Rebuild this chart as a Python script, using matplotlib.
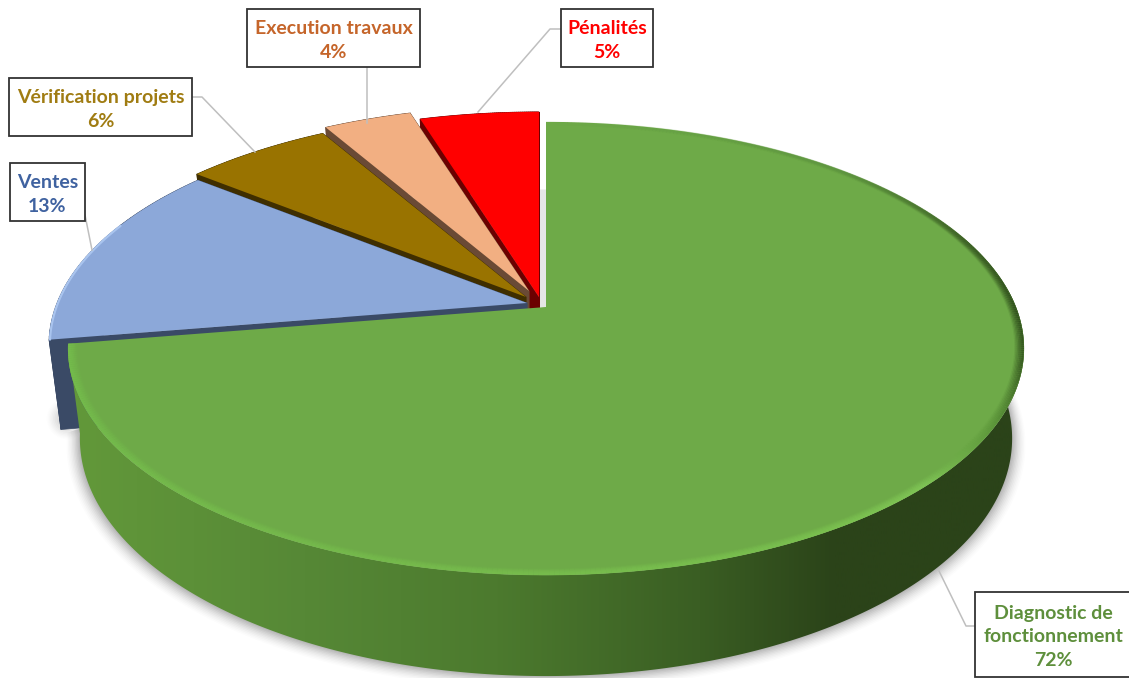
import numpy as np
import matplotlib
matplotlib.use("Agg")
import matplotlib.pyplot as plt
from matplotlib.patches import Polygon, Rectangle
from matplotlib.collections import LineCollection, PolyCollection
from matplotlib.colors import LinearSegmentedColormap, to_rgb

categories = ["Diagnostic de\nfonctionnement", "Ventes", "Vérification projets",
              "Execution travaux", "Pénalités"]
values = [72.4, 13.35, 5.9, 3.55, 4.8]

top_colors = ["#6EAA48", "#8CA8D9", "#997300", "#F2AF82", "#FF0000"]
cut_colors = ["#2B4319", "#3A4A66", "#3F2E00", "#6A4A35", "#6B0000"]
text_colors = ["#5E8F3C", "#3F62A0", "#A07C12", "#C5652A", "#FF0000"]
apexes = [(546, 307), (527, 303), (526, 297), (529, 291), (539, 297)]
boxes = [(975, 592, 1135, 677), (10, 163, 85, 221), (9, 78, 192, 136),
         (247, 9, 420, 67), (561, 9, 653, 67)]
leaders = [[(975, 626), (966, 626), (939, 571)],
           [(85, 215), (92, 250)],
           [(192, 97), (202, 97), (255, 152)],
           [(367, 67), (367, 123)],
           [(561, 29), (550, 29), (478, 112)]]

RX, RY, K = 470.0, 219.0, 0.183
SCALE, DEPTH = 0.975, 88.0


def top_pt(ax_, t, r=1.0):
    u, v = r * np.sin(t), r * np.cos(t)
    w = 1 + K * v
    return ax_[0] + RX * u / w, ax_[1] - RY * v / w


def bot_pt(ax_, t, r=1.0):
    u, v = r * np.sin(t), r * np.cos(t)
    w = 1 + K * v
    return ax_[0] + SCALE * RX * u / w, ax_[1] - SCALE * RY * v / w + DEPTH / w


fig = plt.figure(figsize=(11.29, 6.78), dpi=100)
ax = fig.add_axes([0, 0, 1, 1])
ax.axis("off")

edges = np.radians(np.concatenate([[0], np.cumsum(values)]) * 3.6)
spans = list(zip(edges[:-1], edges[1:]))

# soft shadow below the body
tt = np.linspace(np.radians(80), np.radians(262), 240)
for grow, alpha in zip(np.linspace(13, 1, 10), np.linspace(0.012, 0.05, 10)):
    pts = np.array([bot_pt(apexes[0], t, 1 + grow / 470) for t in tt])
    pts[:, 1] += grow * 0.3
    ax.add_patch(Polygon(np.vstack([pts, [apexes[0]]]), fc="black", ec="none", alpha=alpha, zorder=1))
corner = bot_pt(apexes[1], spans[1][0] + 0.03)
for size, alpha in zip(np.linspace(900, 60, 10), np.linspace(0.006, 0.03, 10)):
    ax.scatter([corner[0] + 6], [corner[1] - 4], s=size, color="black", alpha=alpha,
               linewidths=0, zorder=1)

# far slices first, each extruded then capped
z = 2
for i in [4, 3, 2, 1]:
    a0, a1 = spans[i]
    ap = apexes[i]
    ts = np.linspace(a0, a1, 60)
    outline_top = [ap] + [top_pt(ap, t) for t in ts]
    outline_bot = [(ap[0], ap[1] + DEPTH)] + [bot_pt(ap, t) for t in ts]
    quads = []
    n = len(outline_top)
    for j in range(n):
        k = (j + 1) % n
        quads.append([outline_top[j], outline_top[k], outline_bot[k], outline_bot[j]])
    ax.add_collection(PolyCollection(quads, facecolors=cut_colors[i], edgecolors=cut_colors[i],
                                     linewidths=0.5, zorder=z))
    ax.add_patch(Polygon(outline_top, fc=top_colors[i], ec="none", zorder=z + 1))
    z += 2

# thin light rim on the blue slice
ap = apexes[1]
ts = np.linspace(spans[1][0], spans[1][0] + 0.55, 40)
rim = np.array([top_pt(ap, t, 0.998) for t in ts])
ax.plot(rim[:, 0], rim[:, 1], color="#A9C4EE", lw=1.6, zorder=z, solid_capstyle="round")
z += 1

# gap behind the green slice's upright edge
ap = apexes[0]
gap = np.array([top_pt(ap, 0, 0.0), top_pt(ap, 0, 0.6)])
ax.plot(gap[:, 0] - 3.5, gap[:, 1], color="#E6E6E6", lw=5, zorder=1.5, solid_capstyle="butt")

# green body
a0, a1 = spans[0]
ts = np.linspace(np.radians(70), a1, 300)
body = [top_pt(ap, t) for t in ts] + [bot_pt(ap, t) for t in ts[::-1]]
grad_x = [0.0, 0.07, 0.27, 0.44, 0.62, 0.74, 1.0]
grad_c = ["#62983A", "#62983A", "#568836", "#4C7A2E", "#3A5E23", "#2B4319", "#2B4319"]
cmap = LinearSegmentedColormap.from_list("side", list(zip(grad_x, grad_c)))
img = ax.imshow(np.linspace(0, 1, 512)[None, :], cmap=cmap, extent=(0, 1129, 678, 0),
                aspect="auto", zorder=z, interpolation="bilinear")
img.set_clip_path(Polygon(body, transform=ax.transData))
z += 1

# green top
ts = np.linspace(a0, a1, 500)
ax.add_patch(Polygon([ap] + [top_pt(ap, t) for t in ts], fc=top_colors[0], ec="none", zorder=z))
z += 1

# bevel on the green rim: colour and strength vary around the edge
deg = np.degrees(ts)
stops_d = [0, 45, 70, 90, 105, 120, 135, 150, 200, 262]
stops_c = np.array([to_rgb(c) for c in ["#6EAA48", "#5E9440", "#3F6427", "#30501D", "#3A5E23",
                                         "#5C963A", "#7FC455", "#7AC04F", "#75BA4C", "#74BC4C"]])
stops_a = [0.0, 0.6, 1.0, 1.0, 1.0, 0.9, 1.0, 1.0, 0.9, 1.0]
rgb = np.column_stack([np.interp(deg, stops_d, stops_c[:, c]) for c in range(3)])
alp = np.interp(deg, stops_d, stops_a)
rings = np.linspace(0.998, 0.982, 7)
for r, fade in zip(rings, np.linspace(1.0, 0.12, 7)):
    p = np.array([top_pt(ap, t, r) for t in ts])
    segs = np.stack([p[:-1], p[1:]], axis=1)
    colors = np.column_stack([rgb[:-1], alp[:-1] * fade])
    ax.add_collection(LineCollection(segs, colors=colors, linewidths=1.3, zorder=z, capstyle="butt"))

# leaders and labels
z += 5
for pts in leaders:
    p = np.array(pts)
    ax.plot(p[:, 0], p[:, 1], color="#BFBFBF", lw=1.1, zorder=z)
for cat, val, box, col in zip(categories, values, boxes, text_colors):
    x0, y0, x1, y1 = box
    ax.add_patch(Rectangle((x0, y0), x1 - x0, y1 - y0, fc="white", ec="#333333", lw=1.3, zorder=z + 1))
    cx = (x0 + min(x1, 1132)) / 2
    ax.text(cx, (y0 + y1) / 2 + 2.5, f"{cat}\n{round(val)}%", color=col, ha="center", va="center",
            family="Lato", weight="bold", fontsize=14, linespacing=1.48, zorder=z + 2)

ax.set_xlim(0, 1129)
ax.set_ylim(678, 0)
fig.savefig("out.png", dpi=100)
